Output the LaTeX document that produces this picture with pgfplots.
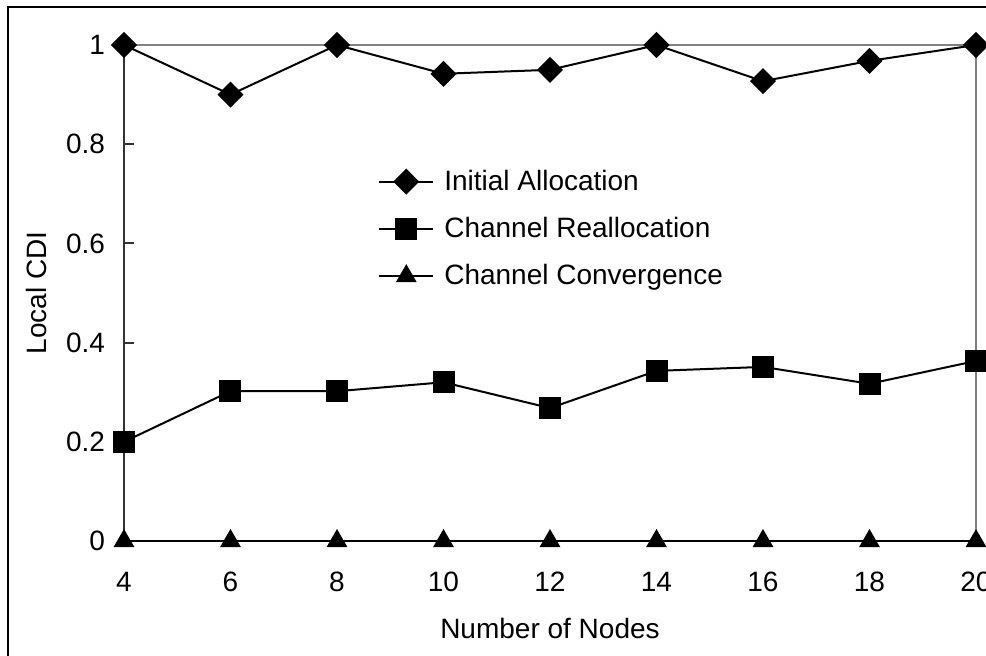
\documentclass[border=0pt]{standalone}
\usepackage{fontspec}
\setmainfont{Liberation Sans}
\usepackage{pgfplots}
\pgfplotsset{compat=1.18}

\begin{document}
\begin{tikzpicture}
\useasboundingbox (0,0) rectangle (493pt,327.5pt);
% outer frame (cropped at the right and bottom)
\draw[black, line width=0.8pt] (4pt,-20pt) -- (4pt,324pt) -- (520pt,324pt);
\begin{axis}[
    at={(62pt,57pt)}, anchor=south west,
    scale only axis,
    width=426pt, height=248pt,
    xmin=4, xmax=20, ymin=0, ymax=1,
    xtick={4,6,...,20},
    ytick={0,0.2,...,1},
    yticklabels={0,0.2,0.4,0.6,0.8,1},
    /pgf/number format/assume math mode=true,
    tick label style={font=\fontsize{14}{16}\selectfont},
    label style={font=\fontsize{14}{16}\selectfont},
    xlabel={Number of Nodes},
    ylabel={Local CDI},
    xlabel style={yshift=-6.5pt},
    ylabel style={yshift=3pt},
    xticklabel style={yshift=-12pt},
    yticklabel style={xshift=-6pt},
    axis line style={draw=none},
    ytick pos=left,
    xtick pos=left,
    tick align=inside,
    major tick length=5pt,
    xtick style={draw=none},
    ytick style={draw=black!80, line width=1pt},
    legend style={draw=none, fill=none, at={(0.298,0.757)}, anchor=north west,
        font=\fontsize{14}{16}\selectfont, row sep=8pt, inner sep=0pt,
        nodes={inner xsep=5pt}},
    legend cell align=left,
    legend image code/.code={
        \draw[mark repeat=2, mark phase=2, #1] plot coordinates {(0pt,0pt) (13.5pt,0pt) (27pt,0pt)};
    },
    clip=false,
]
% plot area borders
\draw[gray, line width=1pt] (axis cs:4,1) -- (axis cs:20,1) -- (axis cs:20,0);
\draw[black!80, line width=1pt] (axis cs:4,0) -- (axis cs:4,1);
\draw[black, line width=1pt] (axis cs:4,0) -- (axis cs:20,0);
\addplot[black, line width=1pt, mark=square*, mark options={rotate=45, solid}, mark size=4.1pt] coordinates {
    (4,1.0) (6,0.90) (8,1.0) (10,0.942) (12,0.95) (14,1.0) (16,0.927) (18,0.968) (20,1.0)
};
\addplot[black, line width=1pt, mark=square*, mark size=5pt] coordinates {
    (4,0.20) (6,0.302) (8,0.302) (10,0.32) (12,0.268) (14,0.343) (16,0.351) (18,0.317) (20,0.363)
};
\addplot[black, line width=1pt, mark=triangle*, mark size=5pt] coordinates {
    (4,0) (6,0) (8,0) (10,0) (12,0) (14,0) (16,0) (18,0) (20,0)
};
\legend{Initial Allocation, Channel Reallocation, Channel Convergence}
\end{axis}
\end{tikzpicture}
\end{document}
